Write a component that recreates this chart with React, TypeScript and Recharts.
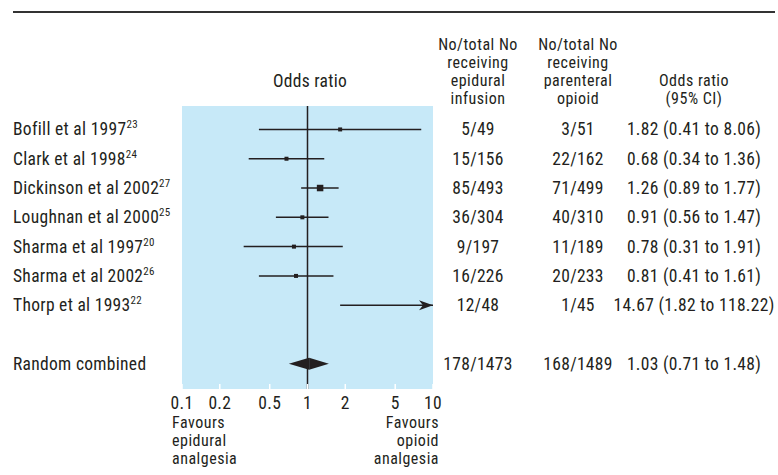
import {
  ComposedChart,
  XAxis,
  YAxis,
  Scatter,
  ReferenceLine,
  ReferenceArea,
} from 'recharts'

// study rows
const studies = [
  'Bofill et al 1997',
  'Clark et al 1998',
  'Dickinson et al 2002',
  'Loughnan et al 2000',
  'Sharma et al 1997',
  'Sharma et al 2002',
  'Thorp et al 1993',
]
const refs = ['23', '24', '27', '25', '20', '26', '22']
const oddsRatio = [1.82, 0.68, 1.26, 0.91, 0.78, 0.81, 14.67]
const ciLow = [0.41, 0.34, 0.89, 0.56, 0.31, 0.41, 1.82]
const ciHigh = [8.06, 1.36, 1.77, 1.47, 1.91, 1.61, 118.22]
const epidural = ['5/49', '15/156', '85/493', '36/304', '9/197', '16/226', '12/48']
const parenteral = ['3/51', '22/162', '71/499', '40/310', '11/189', '20/233', '1/45']
const boxSize = [4, 4, 6.5, 4, 4, 4, 4]

// pooled estimate
const pooledLabel = 'Random combined'
const pooledOR = 1.03
const pooledLow = 0.71
const pooledHigh = 1.48
const pooledEpidural = '178/1473'
const pooledParenteral = '168/1489'
const pooledRow = 8

const xTicks = [0.1, 0.2, 0.5, 1, 2, 5, 10]
const xMin = 0.1
const xMax = 10

const FONT = "'Roboto Condensed', 'DejaVu Sans Condensed', Roboto, sans-serif"
const INK = '#231f20'
const PANEL = '#c7e9f8'

const fmt = (v: number) => v.toFixed(2)

const rows = studies.map((name, i) => ({
  row: i,
  name,
  ref: refs[i],
  or: oddsRatio[i],
  lo: ciLow[i],
  hi: ciHigh[i],
  epi: epidural[i],
  par: parenteral[i],
  size: boxSize[i],
}))

const rowTicks = [...rows.map((r) => r.row), pooledRow]

const rightText = (row: number) => {
  if (row === pooledRow) {
    return {
      epi: pooledEpidural,
      par: pooledParenteral,
      ci: `${fmt(pooledOR)} (${fmt(pooledLow)} to ${fmt(pooledHigh)})`,
    }
  }
  const r = rows[row]
  return { epi: r.epi, par: r.par, ci: `${fmt(r.or)} (${fmt(r.lo)} to ${fmt(r.hi)})` }
}

// single-line texts
const textStyle = { fontSize: 17.5, fill: INK, fontFamily: FONT, letterSpacing: 0.3 }
// stacked headings have tight leading, so a slightly smaller size
const stackStyle = { fontSize: 16, fill: INK, fontFamily: FONT, letterSpacing: 0.5 }

function StudyTick(props: any) {
  const { y, payload } = props
  const row = payload.value
  if (row === pooledRow) {
    return (
      <text x={13} y={y + 6} {...textStyle}>
        {pooledLabel}
      </text>
    )
  }
  const r = rows[row]
  if (!r) return null
  return (
    <text x={13} y={y + 6} {...textStyle}>
      {r.name}
      <tspan fontSize={11} dy={-7}>
        {r.ref}
      </tspan>
    </text>
  )
}

function TableTick(props: any) {
  const { y, payload } = props
  const t = rightText(payload.value)
  return (
    <g textAnchor="middle">
      <text x={478} y={y + 6} {...textStyle}>{t.epi}</text>
      <text x={578} y={y + 6} {...textStyle}>{t.par}</text>
      <text x={694} y={y + 6} {...textStyle}>{t.ci}</text>
    </g>
  )
}

function OddsTick(props: any) {
  const { x, y, payload } = props
  return (
    <g>
      <line x1={x} x2={x} y1={y - 5} y2={y} stroke="#ffffff" strokeWidth={1.5} />
      <text x={x} y={y + 20} textAnchor="middle" {...textStyle}>
        {payload.value}
      </text>
    </g>
  )
}

// confidence interval line, with an arrow when it runs past the axis
function CiLine(props: any) {
  const { x1, y1, x2, y2, arrow } = props
  return (
    <g>
      <line x1={x1} y1={y1} x2={x2} y2={y2} stroke={INK} strokeWidth={1.5} />
      {arrow && (
        <polygon
          points={`${x2},${y2} ${x2 - 14},${y2 - 5} ${x2 - 10},${y2} ${x2 - 14},${y2 + 5}`}
          fill={INK}
        />
      )}
    </g>
  )
}

function DiamondLeft(props: any) {
  const { x1, y1, x2 } = props
  return <polygon points={`${x1},${y1} ${x2},${y1 - 6} ${x2},${y1 + 6}`} fill={INK} />
}

function DiamondRight(props: any) {
  const { x1, y1, x2 } = props
  return <polygon points={`${x1},${y1 - 6} ${x2},${y1} ${x1},${y1 + 6}`} fill={INK} />
}

function Box(props: any) {
  const { cx, cy, payload } = props
  const s = payload.size
  return <rect x={cx - s / 2} y={cy - s / 2} width={s} height={s} fill={INK} />
}

export default function App() {
  const boxes = rows.filter((r) => r.or <= xMax)

  return (
    <div style={{ position: 'absolute', left: 0, top: 0, width: 778, height: 475, background: '#fff' }}>
      <ComposedChart
        width={778}
        height={475}
        data={boxes}
        margin={{ top: 106, right: 0, bottom: 0, left: 0 }}
      >
        <XAxis
          type="number"
          dataKey="or"
          scale="log"
          domain={[xMin, xMax]}
          allowDataOverflow
          ticks={xTicks}
          interval={0}
          height={86}
          axisLine={false}
          tickLine={false}
          tickSize={0}
          tickMargin={0}
          tick={(p: any) => <OddsTick {...p} />}
        />
        <YAxis
          yAxisId="left"
          type="number"
          dataKey="row"
          domain={[-0.8, 8.86]}
          reversed
          allowDataOverflow
          ticks={rowTicks}
          interval={0}
          width={182}
          axisLine={false}
          tickLine={false}
          tick={(p: any) => <StudyTick {...p} />}
        />
        <YAxis
          yAxisId="right"
          orientation="right"
          type="number"
          domain={[-0.8, 8.86]}
          reversed
          allowDataOverflow
          ticks={rowTicks}
          interval={0}
          width={345}
          axisLine={false}
          tickLine={false}
          tick={(p: any) => <TableTick {...p} />}
        />
        <ReferenceArea yAxisId="left" x1={xMin} x2={xMax} fill={PANEL} fillOpacity={1} ifOverflow="visible" />
        <ReferenceLine yAxisId="left" x={1} stroke={INK} strokeWidth={1.5} ifOverflow="visible" />
        {rows.map((r) => (
          <ReferenceLine
            key={r.name}
            yAxisId="left"
            ifOverflow="visible"
            segment={[
              { x: r.lo, y: r.row },
              { x: Math.min(r.hi, xMax), y: r.row },
            ]}
            shape={(p: any) => <CiLine {...p} arrow={r.hi > xMax} />}
          />
        ))}
        <ReferenceLine
          yAxisId="left"
          ifOverflow="visible"
          segment={[
            { x: pooledLow, y: pooledRow },
            { x: pooledOR, y: pooledRow },
          ]}
          shape={(p: any) => <DiamondLeft {...p} />}
        />
        <ReferenceLine
          yAxisId="left"
          ifOverflow="visible"
          segment={[
            { x: pooledOR, y: pooledRow },
            { x: pooledHigh, y: pooledRow },
          ]}
          shape={(p: any) => <DiamondRight {...p} />}
        />
        <Scatter yAxisId="left" dataKey="row" data={boxes} shape={(p: any) => <Box {...p} />} isAnimationActive={false} />
      </ComposedChart>

      <svg
        width={778}
        height={475}
        style={{ position: 'absolute', left: 0, top: 0, pointerEvents: 'none' }}
      >
        <line x1={13} x2={775} y1={12} y2={12} stroke="#333" strokeWidth={2} />
        <text x={310} y={87} textAnchor="middle" {...textStyle}>Odds ratio</text>
        <g textAnchor="middle">
          <text x={478} y={50} {...stackStyle}>No/total No</text>
          <text x={478} y={68} {...stackStyle}>receiving</text>
          <text x={478} y={86} {...stackStyle}>epidural</text>
          <text x={478} y={104} {...stackStyle}>infusion</text>
          <text x={578} y={50} {...stackStyle}>No/total No</text>
          <text x={578} y={68} {...stackStyle}>receiving</text>
          <text x={578} y={86} {...stackStyle}>parenteral</text>
          <text x={578} y={104} {...stackStyle}>opioid</text>
          <text x={694} y={86} {...stackStyle}>Odds ratio</text>
          <text x={694} y={104} {...stackStyle}>(95% CI)</text>
        </g>
        <g>
          <text x={172} y={428} {...stackStyle}>Favours</text>
          <text x={172} y={446} {...stackStyle}>epidural</text>
          <text x={172} y={464} {...stackStyle}>analgesia</text>
        </g>
        <g textAnchor="end">
          <text x={439} y={428} {...stackStyle}>Favours</text>
          <text x={439} y={446} {...stackStyle}>opioid</text>
          <text x={439} y={464} {...stackStyle}>analgesia</text>
        </g>
      </svg>
    </div>
  )
}
